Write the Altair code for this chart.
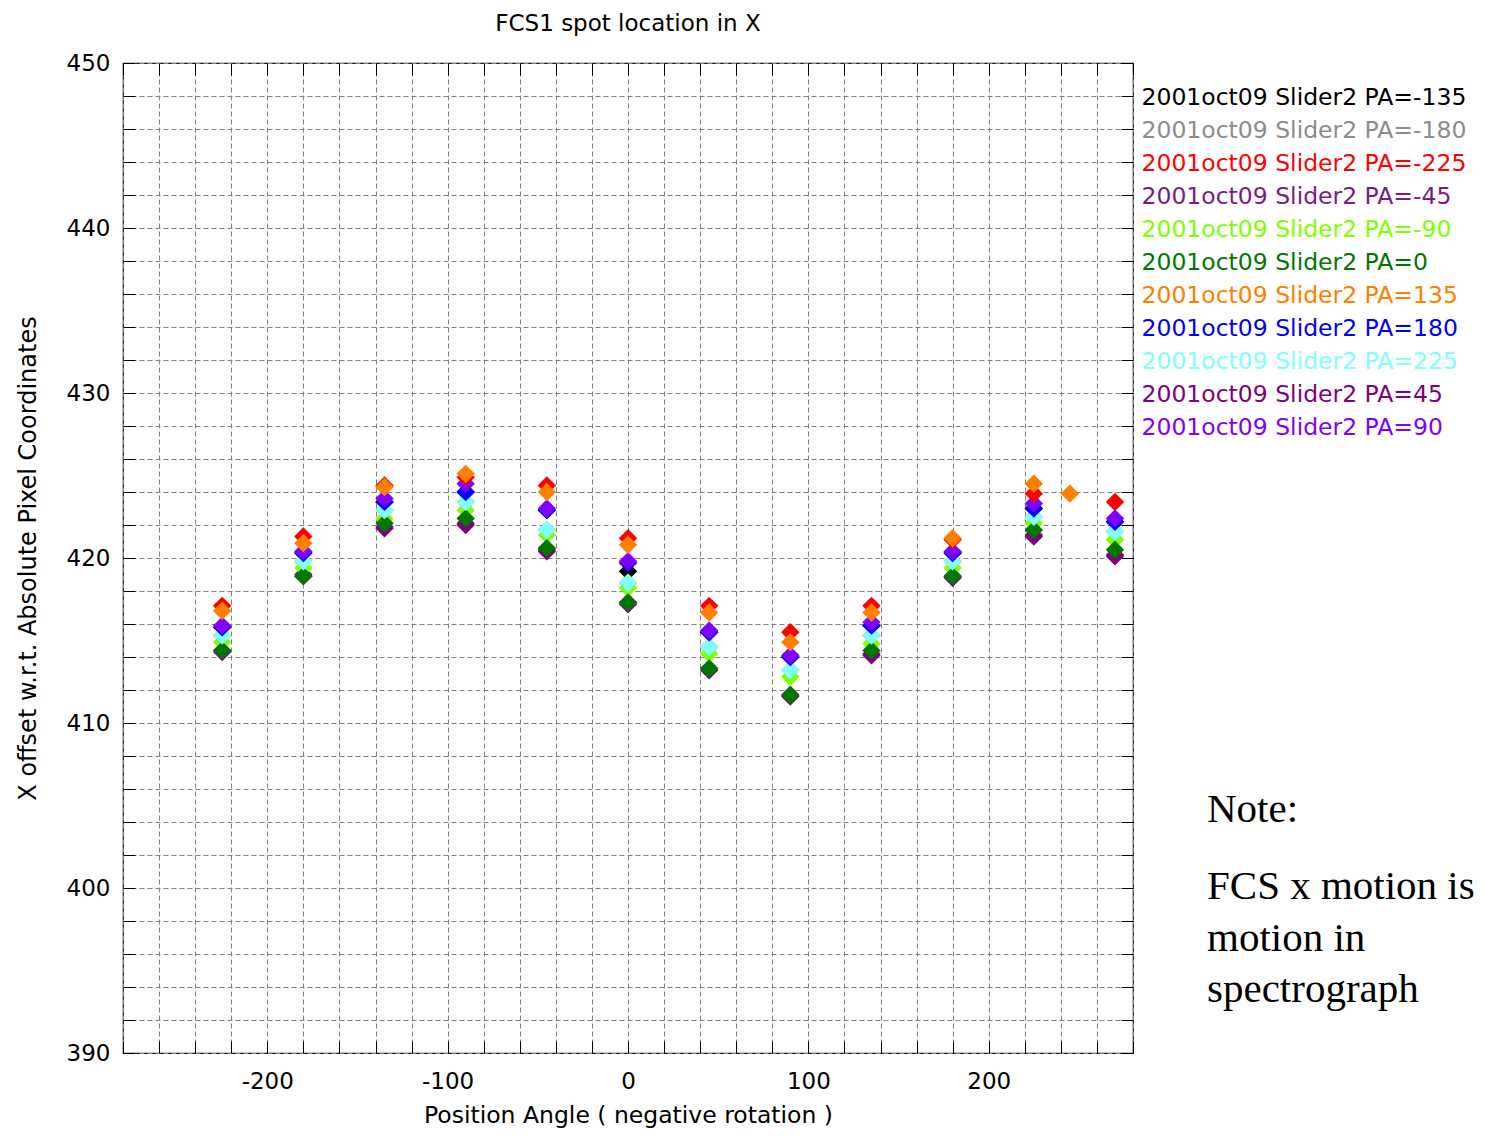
import altair as alt
import pandas as pd

# Position angles (x) at which spots were measured
pa_positions = [-225, -180, -135, -90, -45, 0, 45, 90, 135, 180, 225, 245, 270]

series_names = [
    "2001oct09 Slider2 PA=-135",
    "2001oct09 Slider2 PA=-180",
    "2001oct09 Slider2 PA=-225",
    "2001oct09 Slider2 PA=-45",
    "2001oct09 Slider2 PA=-90",
    "2001oct09 Slider2 PA=0",
    "2001oct09 Slider2 PA=135",
    "2001oct09 Slider2 PA=180",
    "2001oct09 Slider2 PA=225",
    "2001oct09 Slider2 PA=45",
    "2001oct09 Slider2 PA=90",
]
series_colors = ["#000000", "#8c8c8c", "#ff0000", "#7d1a87", "#80ff00", "#007800",
                 "#ff8000", "#0000ff", "#80ffff", "#800080", "#8000ff"]
draw_rank = [0, 1, 9, 2, 4, 5, 10, 7, 6, 3, 8]

# X offsets, one list per series (None = no point)
y_pa_m135 = [415.8, 420.3, 423.4, 424.0, 422.9, 419.2, 415.5, 414.0, 415.9, 420.3, 423.0, None, 422.2]
y_pa_m180 = [415.3, 419.8, 422.9, 423.4, 421.7, 418.5, 414.6, 413.2, 415.3, 419.8, 422.5, None, 421.6]
y_pa_m225 = [417.1, 421.3, 424.4, 424.9, 424.4, 421.2, 417.1, 415.5, 417.1, 421.1, 423.9, None, 423.4]
y_pa_m45 = [414.4, 419.0, 421.9, 422.1, 420.5, 417.3, 413.3, 411.7, 414.2, 418.9, 421.4, None, 420.2]
y_pa_m90 = [414.9, 419.4, 422.4, 422.9, 421.4, 418.2, 414.2, 412.8, 414.8, 419.4, 422.1, None, 421.1]
y_pa_0 = [414.4, 418.9, 422.1, 422.4, 420.6, 417.3, 413.3, 411.7, 414.4, 418.9, 421.7, None, 420.5]
y_pa_135 = [416.8, 420.9, 424.3, 425.1, 424.0, 420.8, 416.7, 414.9, 416.7, 421.2, 424.5, 423.9, None]
y_pa_180 = [415.8, 420.3, 423.4, 424.0, 422.9, 419.7, 415.5, 414.0, 415.9, 420.3, 423.0, None, 422.2]
y_pa_225 = [415.3, 419.8, 422.9, 423.4, 421.7, 418.5, 414.6, 413.2, 415.3, 419.8, 422.5, None, 421.6]
y_pa_45 = [414.3, 418.9, 421.8, 422.0, 420.4, 417.2, 413.2, 411.6, 414.1, 418.8, 421.3, None, 420.1]
y_pa_90 = [415.9, 420.4, 423.6, 424.5, 423.0, 419.8, 415.6, 414.1, 416.1, 420.4, 423.3, None, 422.4]

series_values = [y_pa_m135, y_pa_m180, y_pa_m225, y_pa_m45, y_pa_m90, y_pa_0,
                 y_pa_135, y_pa_180, y_pa_225, y_pa_45, y_pa_90]

x_grid = list(range(-280, 281, 20))
y_grid = list(range(390, 451, 2))

rows = []
for name, rank, vals in zip(series_names, draw_rank, series_values):
    for pa, v in zip(pa_positions, vals):
        if v is not None:
            rows.append({"series": name, "pa": pa, "val": v, "rank": rank})
df = pd.DataFrame(rows)

FONT = "DejaVu Sans"
xscale = alt.Scale(domain=[-280, 280], nice=False, zero=False)
yscale = alt.Scale(domain=[390, 450], nice=False, zero=False)

base = alt.Chart(df)

points = base.mark_point(shape="diamond", filled=True, size=340, opacity=1).encode(
    x=alt.X("pa:Q", scale=xscale, axis=alt.Axis(
        orient="bottom", values=x_grid, title="Position Angle ( negative rotation )",
        labelExpr="datum.value % 100 === 0 ? '' + datum.value : ''",
        grid=True, gridDash=[5, 3], gridColor="#808080", gridWidth=1,
        ticks=False, tickSize=0, domain=False, labelPadding=17,
        labelFont=FONT, labelFontSize=23, labelColor="#000000", labelFlush=False,
        titleFont=FONT, titleFontSize=23.5, titleFontWeight="normal", titleColor="#000000",
        titleY=62, titleBaseline="middle")),
    y=alt.Y("val:Q", scale=yscale, axis=alt.Axis(
        orient="left", values=y_grid, title="X offset w.r.t. Absolute Pixel Coordinates",
        labelExpr="datum.value % 10 === 0 ? '' + datum.value : ''",
        grid=True, gridDash=[5, 3], gridColor="#808080", gridWidth=1,
        ticks=False, tickSize=0, domain=False, labelPadding=13,
        labelFont=FONT, labelFontSize=23, labelColor="#000000", labelFlush=False,
        titleFont=FONT, titleFontSize=24, titleFontWeight="normal", titleColor="#000000",
        titleX=-95, titleBaseline="middle")),
    color=alt.Color("series:N", scale=alt.Scale(domain=series_names, range=series_colors),
                    legend=alt.Legend(
                        orient="none", legendX=995, legendY=23, title=None,
                        symbolSize=0, symbolStrokeWidth=0, labelOffset=0,
                        labelFont=FONT, labelFontSize=23.5, labelLimit=0,
                        rowPadding=8, padding=0,
                        labelColor=alt.ExprRef(expr="scale('color', datum.value)"))),
    order=alt.Order("rank:Q"),
)

tick_axis = dict(labels=False, domain=False, grid=False, title=None, ticks=True,
                 tickSize=12, offset=-12, tickColor="#000000", tickWidth=1)

ticks_tr = base.mark_point(opacity=0).encode(
    x=alt.X("pa:Q", scale=xscale, axis=alt.Axis(orient="top", values=x_grid, **tick_axis)),
    y=alt.Y("val:Q", scale=yscale, axis=alt.Axis(orient="right", values=y_grid, **tick_axis)),
)
ticks_bl = base.mark_point(opacity=0).encode(
    x=alt.X("pa:Q", scale=xscale, axis=alt.Axis(orient="bottom", values=x_grid, **tick_axis)),
    y=alt.Y("val:Q", scale=yscale, axis=alt.Axis(orient="left", values=y_grid, **tick_axis)),
)

note_head = alt.Chart(pd.DataFrame({"t": ["Note:"]})).mark_text(
    font="Liberation Serif", fontSize=41, align="left", baseline="middle", color="#000000"
).encode(text="t:N", x=alt.value(1084), y=alt.value(747))

note_body = alt.Chart(pd.DataFrame({"t": [["FCS x motion is", "motion in", "spectrograph"]]})).mark_text(
    font="Liberation Serif", fontSize=41, align="left", baseline="middle", color="#000000",
    lineHeight=51.5
).encode(text="t", x=alt.value(1084), y=alt.value(824))

chart = alt.layer(points, ticks_tr, ticks_bl, note_head, note_body).resolve_axis(
    x="independent", y="independent"
).properties(
    width=1010, height=990,
    title=alt.TitleParams("FCS1 spot location in X", font=FONT, fontSize=23,
                          fontWeight="normal", color="#000000", anchor="middle",
                          frame="group", offset=16),
    autosize=alt.AutoSizeParams(type="none"),
    padding={"left": 115, "top": 55, "right": 344, "bottom": 77},
).configure_view(stroke="#111111", strokeWidth=1.2)

chart.save("out.html", embed_options={"renderer": "svg", "actions": False})
